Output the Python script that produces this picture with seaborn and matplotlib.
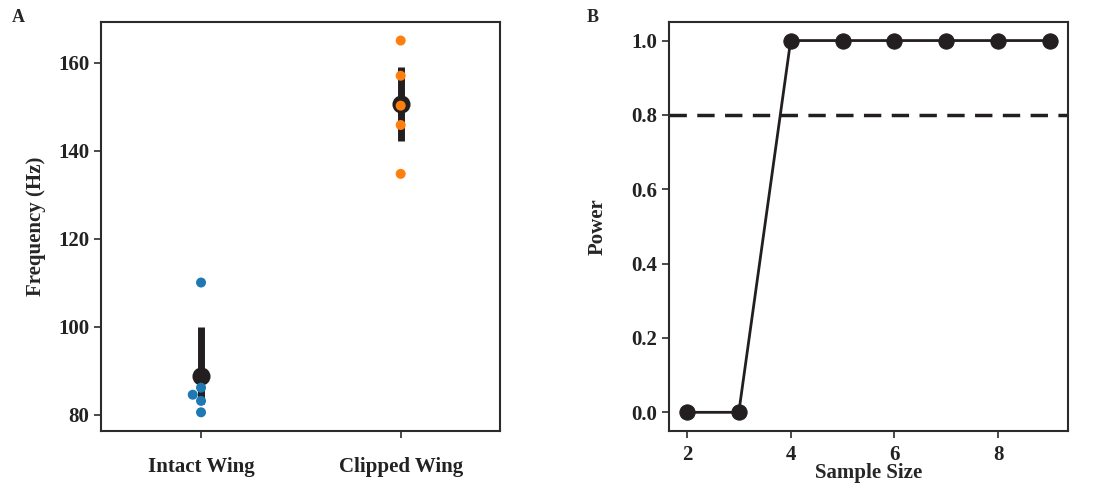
import pandas as pd
import matplotlib.pyplot as plt
import seaborn as sns

# panel A data
intact = [110.0, 86.1, 84.5, 83.1, 80.5]
clipped = [165.0, 157.0, 150.2, 145.8, 134.7]
groups = ['Intact Wing', 'Clipped Wing']

# panel B data
sample_size = [2, 3, 4, 5, 6, 7, 8, 9]
power = [0.0, 0.0, 1.0, 1.0, 1.0, 1.0, 1.0, 1.0]
threshold = 0.8

df = pd.DataFrame({
    'group': [groups[0]] * len(intact) + [groups[1]] * len(clipped),
    'freq': intact + clipped,
})
df_pow = pd.DataFrame({'n': sample_size, 'power': power})

sns.set_style('ticks')
plt.rcParams['font.family'] = ['Liberation Serif', 'DejaVu Serif']
plt.rcParams['font.weight'] = 'bold'
plt.rcParams['axes.labelweight'] = 'bold'
plt.rcParams['axes.edgecolor'] = '#2b2b2b'
plt.rcParams['axes.linewidth'] = 1.5

fs = 15
fig = plt.figure(figsize=(11, 4.88), dpi=100)
ax1 = fig.add_axes([0.092, 0.117, 0.363, 0.838])
ax2 = fig.add_axes([0.608, 0.117, 0.363, 0.838])

dark = '#231f20'

# A: mean + CI, then the raw points
sns.pointplot(data=df, x='group', y='freq', order=groups, color=dark,
              errorbar=('ci', 95), seed=3, linestyle='none', markersize=11,
              err_kws={'linewidth': 5, 'solid_capstyle': 'butt'}, ax=ax1)
sns.swarmplot(data=df, x='group', y='freq', order=groups, hue='group',
              palette=['#1f77b4', '#ff7f0e'], size=7.2, legend=False, ax=ax1)
ax1.set_xlabel('')
ax1.set_ylabel('Frequency (Hz)', fontsize=fs, labelpad=9)
ax1.set_yticks([80, 100, 120, 140, 160])
ax1.margins(y=0.05)

# B: power curve
ax2.axhline(threshold, color=dark, linestyle='--', linewidth=2.5, dashes=(5, 3))
sns.lineplot(data=df_pow, x='n', y='power', color=dark, marker='o',
             markersize=11, markeredgecolor=dark, linewidth=2, ax=ax2)
ax2.set_xlabel('Sample Size', fontsize=fs, labelpad=-1)
ax2.set_ylabel('Power', fontsize=fs, labelpad=17)
ax2.set_xticks([2, 4, 6, 8])
ax2.set_yticks([0.0, 0.2, 0.4, 0.6, 0.8, 1.0])
ax2.set_yticklabels(['0.0', '0.2', '0.4', '0.6', '0.8', '1.0'])
ax2.margins(0.05)

for ax in (ax1, ax2):
    for s in ax.spines.values():
        s.set_visible(True)
    ax.tick_params(direction='out', length=5, width=1.2, labelsize=fs,
                   colors='#2b2b2b', labelcolor='#222222')
    for lbl in ax.get_xticklabels() + ax.get_yticklabels():
        lbl.set_fontweight('bold')

ax1.tick_params(axis='x', pad=14)
ax2.tick_params(axis='x', pad=5)

fig.text(0.011, 0.955, 'A', fontsize=13, fontweight='bold')
fig.text(0.533, 0.955, 'B', fontsize=13, fontweight='bold')

fig.savefig('out.png', dpi=100)
